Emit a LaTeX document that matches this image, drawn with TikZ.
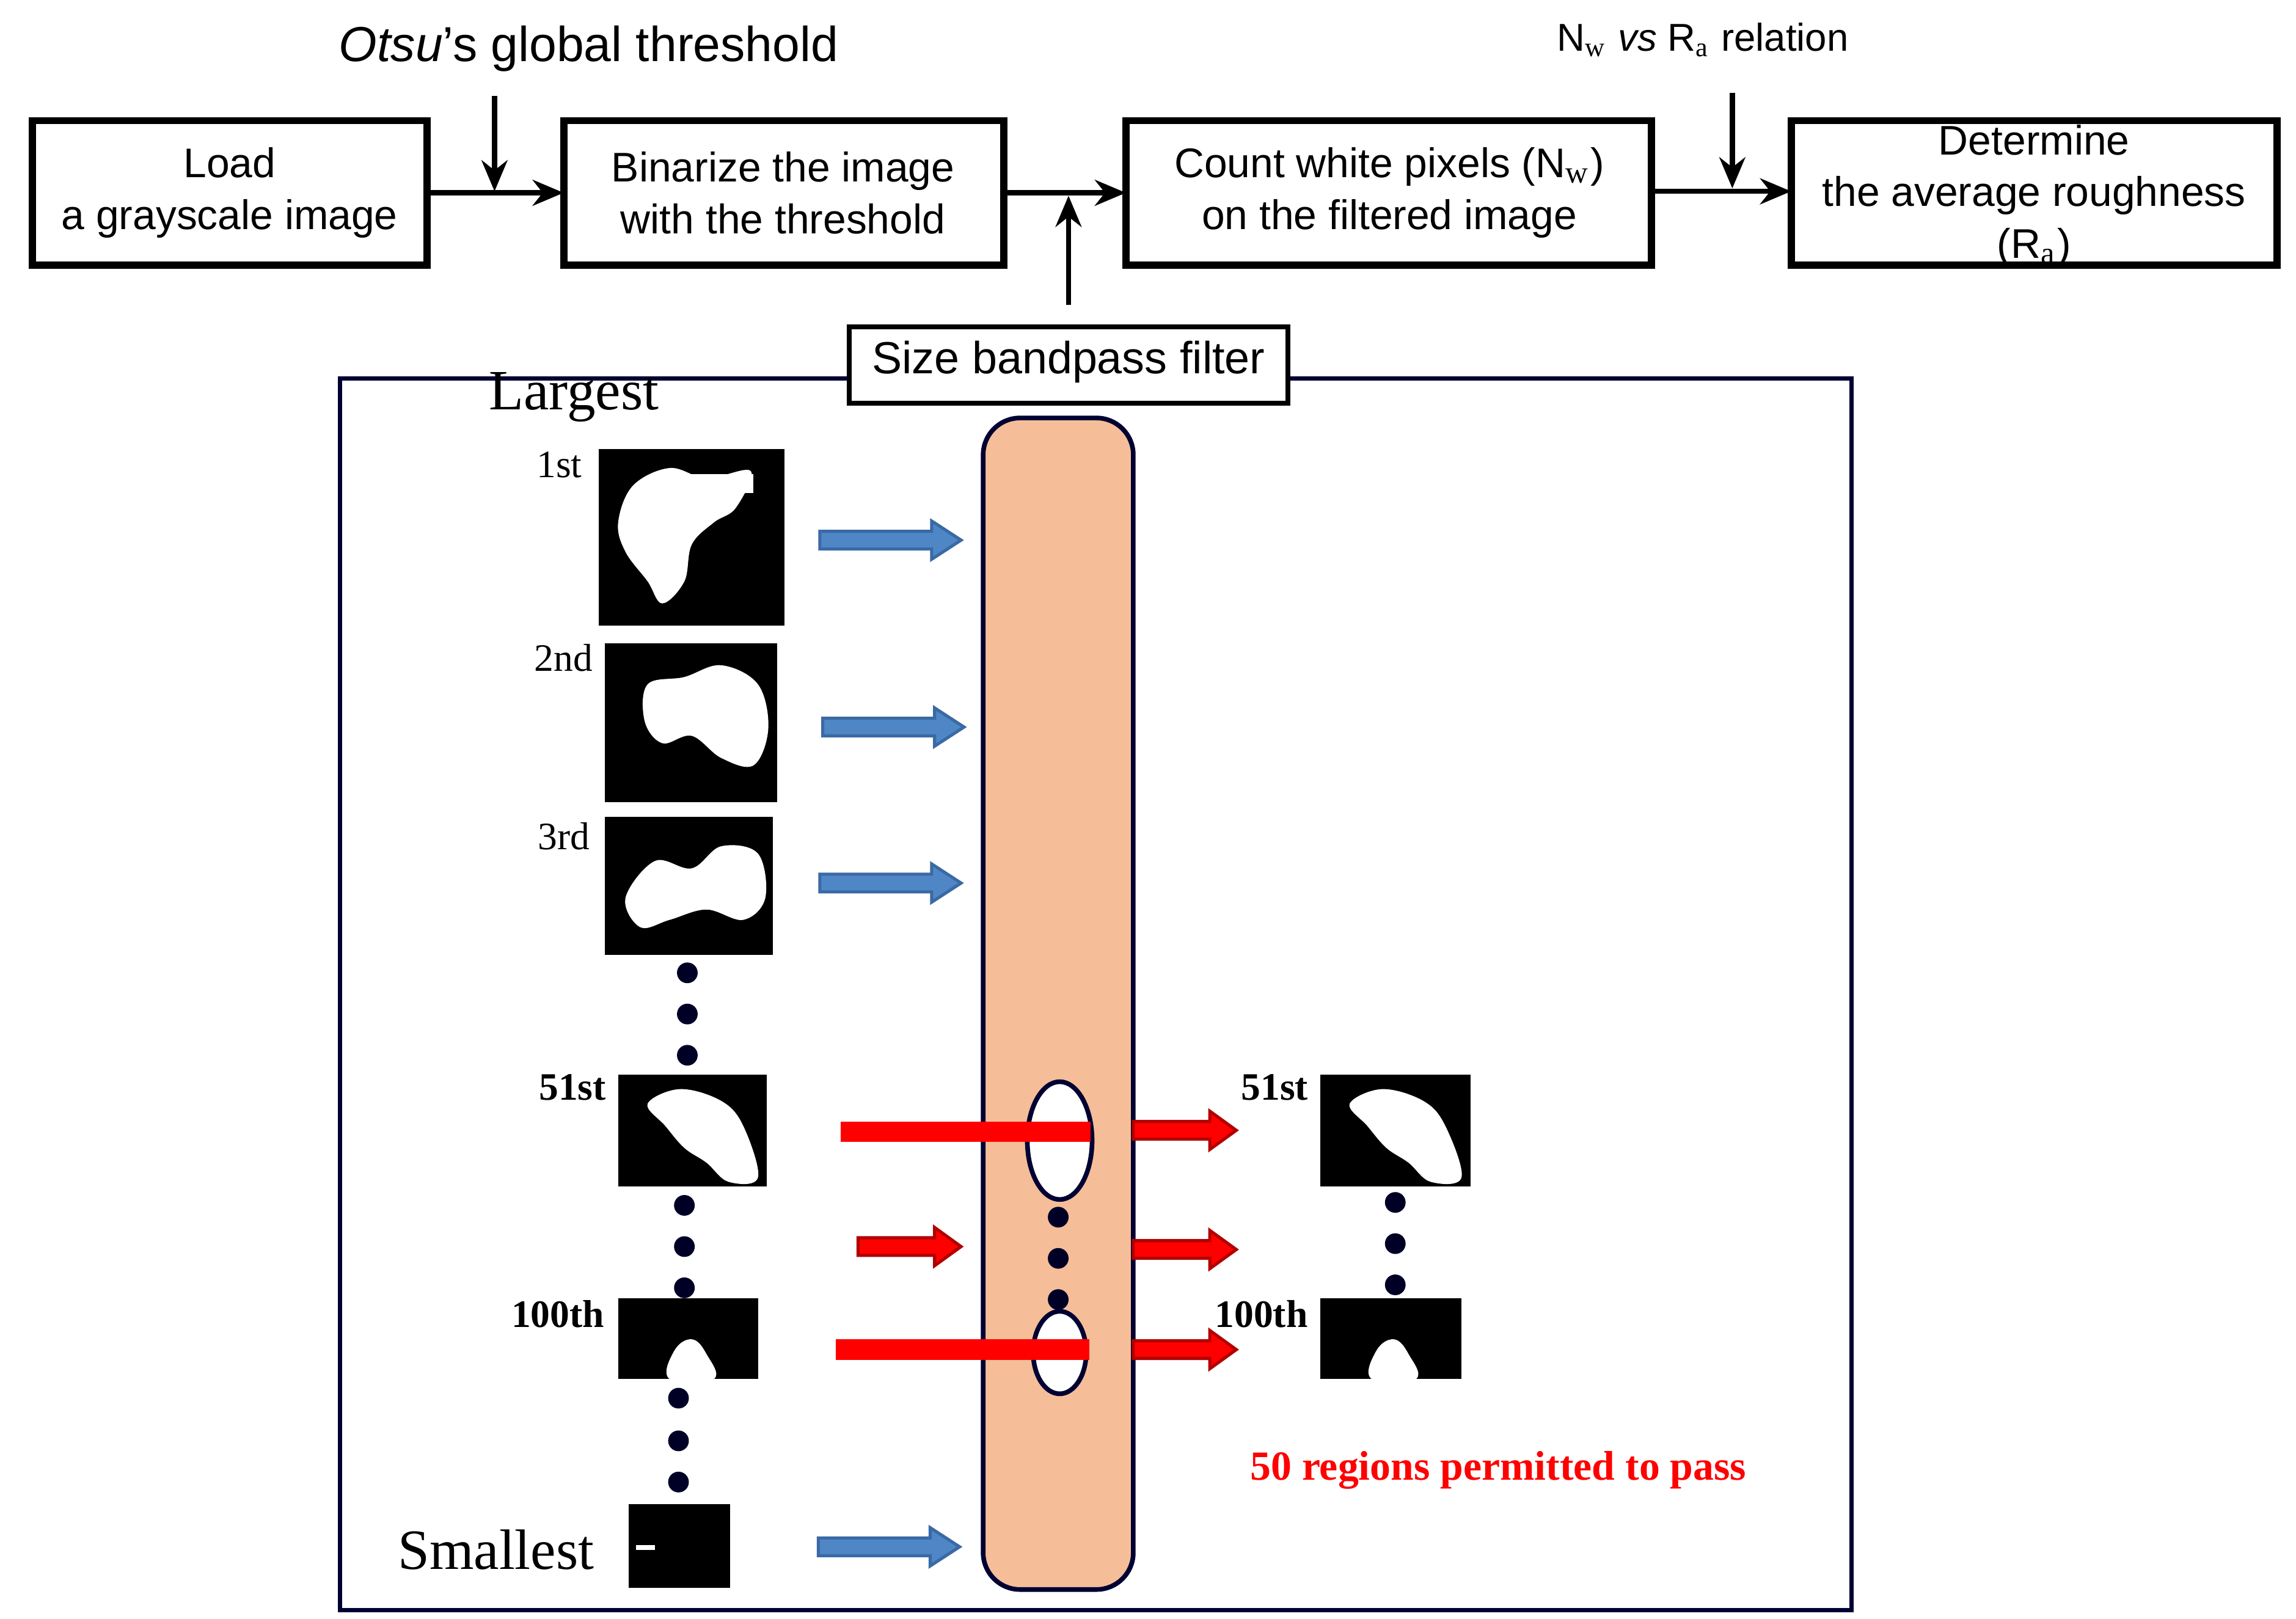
\documentclass[tikz,border=0pt]{standalone}
\usepackage{fontspec}
\setmainfont{Liberation Serif}
\newfontfamily\sansf{Liberation Sans}
\usetikzlibrary{arrows.meta,shapes.geometric}
\definecolor{orng}{HTML}{F5BE98}
\definecolor{blu}{HTML}{4F86C6}
\definecolor{bludk}{HTML}{3A6AA5}
\begin{document}
\begin{tikzpicture}[x=0.01cm,y=-0.01cm,
  txt/.style={align=center,font=\sansf\fontsize{8}{10}\selectfont},
  ar/.style={-{Stealth[length=6pt,width=5pt]},line width=1pt},
  img/.style={fill=black},
  lbl/.style={font=\fontsize{7.5}{9}\selectfont},
  blbl/.style={font=\bfseries\fontsize{7.5}{9}\selectfont},
  dot/.style={circle,fill=black!85!blue,inner sep=0pt,minimum size=4pt},
  barrow/.style={fill=blu,draw=bludk,line width=0.6pt},
  rarrow/.style={fill=red,draw=red!70!black,line width=0.6pt}]
\useasboundingbox (0,0) rectangle (1560,1100);
% top row
\draw[line width=1.4pt] (22,82) rectangle (290,180);
\node[txt] (t1) at (156,131) {Load\\a grayscale image};
\draw[line width=1.4pt] (383,82) rectangle (682,180);
\node[txt] (t2) at (532,131) {Binarize the image\\with the threshold};
\draw[line width=1.4pt] (765,82) rectangle (1122,180);
\node[txt] (t3) at (944,131) {Count white pixels (N$_\mathrm{w}$)\\on the filtered image};
\draw[line width=1.4pt] (1217,82) rectangle (1547,180);
\node[txt] (t4) at (1382,133) {Determine\\the average roughness\\(R$_\mathrm{a}$)};
\coordinate (e1) at (290,131); \coordinate (s2) at (383,131);
\coordinate (e2) at (682,131); \coordinate (s3) at (765,131);
\coordinate (e3) at (1122,130); \coordinate (s4) at (1217,130);
\draw[ar] (e1) -- (s2);
\draw[ar] (e2) -- (s3);
\draw[ar] (e3) -- (s4);
\node[font=\sansf\fontsize{9.5}{11}\selectfont] (otsu) at (400,33) {\textit{Otsu}’s global threshold};
\coordinate (o1) at (336,65); \coordinate (o2) at (336,130);
\draw[ar] (o1) -- (o2);
\node[font=\sansf\fontsize{7.5}{9}\selectfont] (nw) at (1157,27) {N$_\mathrm{w}$ \textit{vs} R$_\mathrm{a}$ relation};
\coordinate (n1) at (1177,63); \coordinate (n2) at (1177,128);
\draw[ar] (n1) -- (n2);
\coordinate (f1) at (726,207); \coordinate (f2) at (726,133);
\draw[ar] (f1) -- (f2);
% frame
\draw[line width=0.8pt,draw=black!80!blue] (231,257) rectangle (1258,1094);
\draw[line width=1pt,fill=white] (577,222) rectangle (875,274);
\node[font=\sansf\fontsize{8.7}{10}\selectfont] (sbf) at (726,246) {Size bandpass filter};
\fill[orng,draw=black!80!blue,line width=0.9pt,rounded corners=0.25cm] (668,284) rectangle (770,1080);
% labels
\node[font=\fontsize{11}{13}\selectfont] (lg) at (390,270) {Largest};
\node[font=\fontsize{11}{13}\selectfont] (sm) at (337,1053) {Smallest};
\node[lbl] at (380,316) {1st};
\node[lbl] at (383,447) {2nd};
\node[lbl] at (383,568) {3rd};
\node[blbl] at (389,739) {51st};
\node[blbl] at (379,893) {100th};
\node[blbl] at (866,739) {51st};
\node[blbl] at (857,893) {100th};
% images
\fill[img] (407,305) rectangle (533,425);
\fill[white] plot[smooth cycle,tension=0.6] coordinates {(430,330)(455,318)(480,325)(510,320)(500,345)(485,355)(470,370)(465,395)(450,410)(440,395)(425,375)(420,355)};
\fill[white] (470,322) rectangle (512,335);
\fill[img] (411,437) rectangle (528,545);
\fill[white] plot[smooth cycle,tension=0.6] coordinates {(440,465)(465,460)(490,452)(515,465)(522,495)(512,520)(490,515)(470,500)(450,505)(438,490)};
\fill[img] (411,555) rectangle (525,649);
\fill[white] plot[smooth cycle,tension=0.6] coordinates {(425,610)(445,585)(470,590)(490,575)(515,580)(520,610)(505,625)(480,618)(455,625)(435,630)};
\fill[img] (420,730) rectangle (521,806);
\fill[white] plot[smooth cycle,tension=0.6] coordinates {(440,750)(462,740)(490,748)(505,765)(515,800)(495,803)(480,790)(465,780)(452,765)};
\fill[img] (420,882) rectangle (515,937);
\fill[white] plot[smooth cycle,tension=0.7] coordinates {(455,937)(458,918)(470,910)(480,920)(485,937)};
\fill[img] (427,1022) rectangle (496,1079);
\fill[white] (432,1050) rectangle (445,1053);
\fill[img] (897,730) rectangle (999,806);
\fill[white] plot[smooth cycle,tension=0.6] coordinates {(917,750)(939,740)(967,748)(982,765)(993,800)(972,803)(957,790)(942,780)(929,765)};
\fill[img] (897,882) rectangle (993,937);
\fill[white] plot[smooth cycle,tension=0.7] coordinates {(932,937)(935,918)(947,910)(957,920)(962,937)};
% dots
\foreach \y in {661,689,717} \node[dot] at (467,\y) {};
\foreach \y in {819,847,875} \node[dot] at (465,\y) {};
\foreach \y in {950,979,1007} \node[dot] at (461,\y) {};
\foreach \y in {817,845,873} \node[dot] at (948,\y) {};
\foreach \y in {827,855,883} \node[dot] at (719,\y) {};
% blue arrows
\foreach \x/\y in {557/367,559/494,557/600,556/1051}
  \draw[barrow] (\x,\y-6) -- (\x+76,\y-6) -- (\x+76,\y-13) -- (\x+96,\y) -- (\x+76,\y+13) -- (\x+76,\y+6) -- (\x,\y+6) -- cycle;
% ellipses
\node[ellipse,draw=black!80!blue,line width=0.9pt,fill=white,inner sep=0pt,minimum width=0.44cm,minimum height=0.8cm] (el1) at (720,775) {};
\node[ellipse,draw=black!80!blue,line width=0.9pt,fill=white,inner sep=0pt,minimum width=0.36cm,minimum height=0.56cm] (el2) at (720,919) {};
% red bars and arrows
\fill[red] (571,762) rectangle (741,776);
\fill[red] (568,910) rectangle (740,924);
\foreach \x/\y in {770/768,583/847,770/849,770/917}
  \draw[rarrow] (\x,\y-6) -- (\x+52,\y-6) -- (\x+52,\y-13) -- (\x+70,\y) -- (\x+52,\y+13) -- (\x+52,\y+6) -- (\x,\y+6) -- cycle;
\node[font=\bfseries\fontsize{8}{10}\selectfont,text=red] (perm) at (1018,999) {50 regions permitted to pass};
\end{tikzpicture}
\end{document}
